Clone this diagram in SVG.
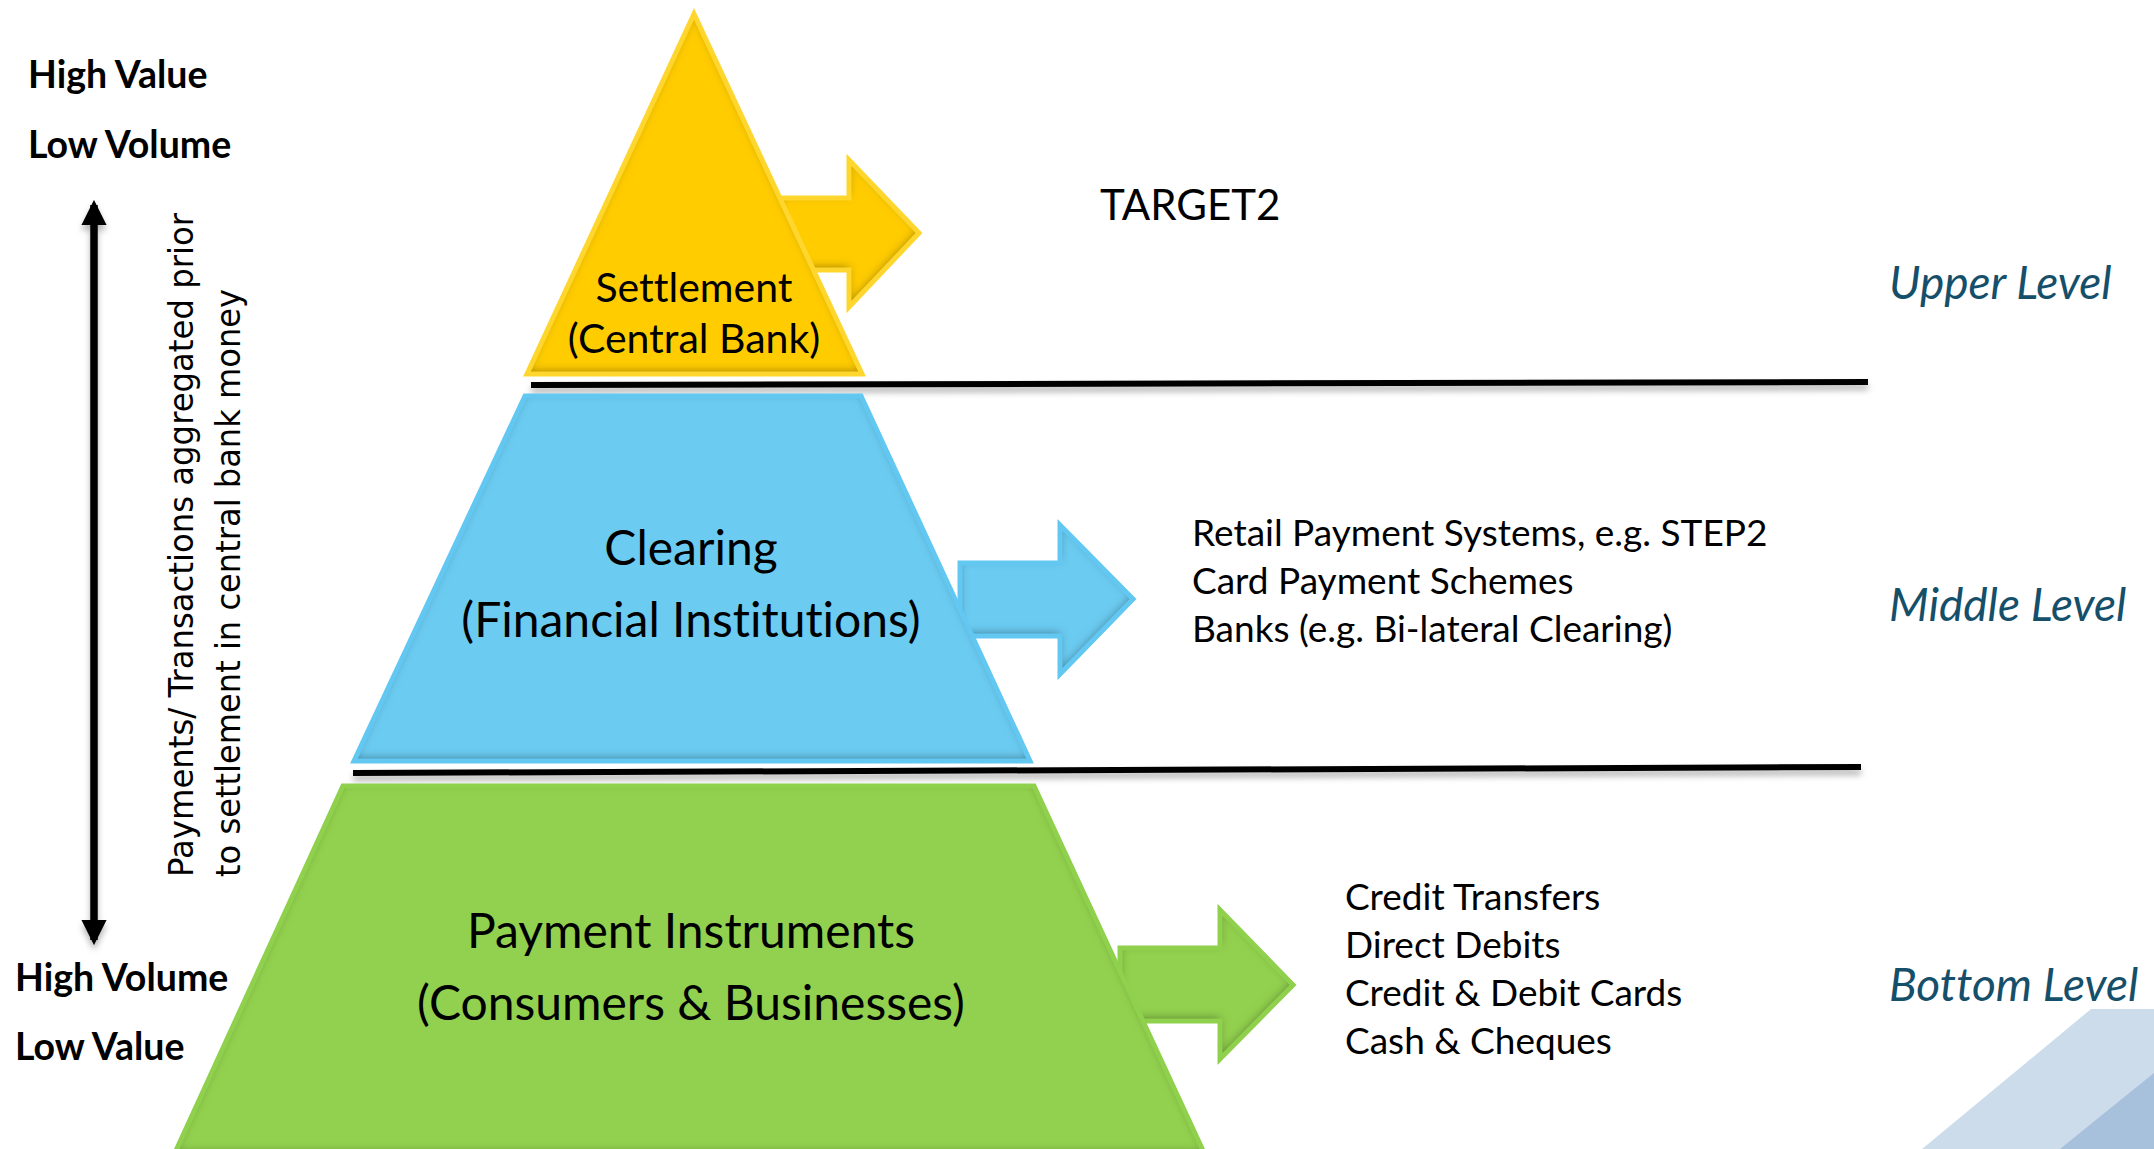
<svg xmlns="http://www.w3.org/2000/svg" width="2154" height="1149" viewBox="0 0 2154 1149">
<defs>
<style>
text{font-variant-ligatures:none;font-feature-settings:"liga" 0}
.lbl{font-family:Lato,"Liberation Sans",sans-serif;fill:#000}
.big{font-size:48px;text-anchor:middle}
.side{font-size:37px}
.bold{font-family:Lato,"Liberation Sans",sans-serif;font-weight:bold;font-size:37.5px;fill:#000}
.lvl{font-family:Lato,"Liberation Sans",sans-serif;font-style:italic;font-size:46px;fill:#154F6A}
.rot{font-family:"DejaVu Sans","Liberation Sans",sans-serif;font-size:34px;fill:#000}
.yf{fill:#FFCC00}
.ys{fill:none;stroke:#FFD62E;stroke-width:5;stroke-linejoin:miter}
.bf{fill:#6CCBF1}
.bs{fill:none;stroke:#62C8F2;stroke-width:5;stroke-linejoin:miter}
.gf{fill:#92D050}
.gs{fill:none;stroke:#8FD04D;stroke-width:5;stroke-linejoin:miter}
.sep{stroke:#000;stroke-width:6;fill:none}
</style>
<filter id="inset" x="-10%" y="-10%" width="120%" height="120%">
<feOffset in="SourceAlpha" dx="0" dy="-3" result="o"/>
<feGaussianBlur in="o" stdDeviation="5" result="b"/>
<feComposite in="SourceAlpha" in2="b" operator="out" result="inv"/>
<feFlood flood-color="#000" flood-opacity="0.7"/>
<feComposite in2="inv" operator="in" result="sh"/>
<feMerge><feMergeNode in="SourceGraphic"/><feMergeNode in="sh"/></feMerge>
</filter>
<filter id="drop" filterUnits="userSpaceOnUse" x="0" y="0" width="2154" height="1149">
<feGaussianBlur in="SourceAlpha" stdDeviation="3"/>
<feOffset dx="0" dy="5" result="b"/>
<feFlood flood-color="#000" flood-opacity="0.3"/>
<feComposite in2="b" operator="in"/>
<feMerge><feMergeNode/><feMergeNode in="SourceGraphic"/></feMerge>
</filter>
<marker id="ah" viewBox="0 0 10 10" refX="8" refY="5" markerWidth="3.4" markerHeight="3.4" orient="auto-start-reverse" markerUnits="strokeWidth">
<path d="M0,0 L10,5 L0,10 Z" fill="#000"/>
</marker>
</defs>
<rect width="2154" height="1149" fill="#fff"/>

<g id="decor">
<polygon points="2091,1009 2154,1009 2154,1149 1922,1149" fill="#CCDCEB"/>
<polygon points="2154,1073 2154,1149 2060,1149" fill="#A7C0DC"/>
</g>

<g id="connectors">
<line class="sep" x1="531" y1="385" x2="1868" y2="382" filter="url(#drop)"/>
<line class="sep" x1="353" y1="773" x2="1861" y2="767" filter="url(#drop)"/>
<line x1="94" y1="205" x2="94" y2="940" stroke="#000" stroke-width="7.5" marker-start="url(#ah)" marker-end="url(#ah)" filter="url(#drop)"/>
</g>

<g id="settlement">
<polygon class="yf" filter="url(#inset)" points="780,198 849,198 849,160 919,233 849,307 849,270 780,270"/>
<polygon class="ys" points="780,198 849,198 849,160 919,233 849,307 849,270 780,270"/>
<polygon class="yf" filter="url(#inset)" points="694,14 862,374 527,374"/>
<polygon class="ys" points="694,14 862,374 527,374"/>
<text class="lbl" x="694" y="302" font-size="41" text-anchor="middle">Settlement</text>
<text class="lbl" x="694" y="353" font-size="41" text-anchor="middle">(Central Bank)</text>
</g>

<g id="clearing">
<polygon class="bf" filter="url(#inset)" points="960,563 1060,563 1060,525 1133,599 1060,674 1060,636 960,636"/>
<polygon class="bs" points="960,563 1060,563 1060,525 1133,599 1060,674 1060,636 960,636"/>
<polygon class="bf" filter="url(#inset)" points="525,396 861,396 1030,761 354,761"/>
<polygon class="bs" points="525,396 861,396 1030,761 354,761"/>
<text class="lbl big" x="691" y="565">Clearing</text>
<text class="lbl big" x="691" y="637">(Financial Institutions)</text>
</g>

<g id="instruments">
<polygon class="gf" filter="url(#inset)" points="1120,948 1220,948 1220,910 1293,985 1220,1059 1220,1021 1120,1021"/>
<polygon class="gs" points="1120,948 1220,948 1220,910 1293,985 1220,1059 1220,1021 1120,1021"/>
<polygon class="gf" filter="url(#inset)" points="343,786 1034,786 1205,1155 174,1155"/>
<polygon class="gs" points="343,786 1034,786 1205,1155 174,1155"/>
<text class="lbl big" x="691" y="948">Payment Instruments</text>
<text class="lbl big" x="691" y="1020">(Consumers &amp; Businesses)</text>
</g>

<g id="axis-labels">
<text class="bold" x="28" y="88">High Value</text>
<text class="bold" x="28" y="158">Low Volume</text>
<text class="bold" x="15" y="991">High Volume</text>
<text class="bold" x="15" y="1060">Low Value</text>
<text class="rot" transform="translate(193,877) rotate(-90)" textLength="664" lengthAdjust="spacingAndGlyphs">Payments/ Transactions aggregated prior</text>
<text class="rot" transform="translate(240,877) rotate(-90)" textLength="588" lengthAdjust="spacingAndGlyphs">to settlement in central bank money</text>
</g>

<g id="examples">
<text class="lbl" x="1100" y="220" font-size="42">TARGET2</text>
<text class="lbl side" x="1192" y="546">Retail Payment Systems, e.g. STEP2</text>
<text class="lbl side" x="1192" y="594">Card Payment Schemes</text>
<text class="lbl side" x="1192" y="642">Banks (e.g. Bi-lateral Clearing)</text>
<text class="lbl side" x="1345" y="910">Credit Transfers</text>
<text class="lbl side" x="1345" y="958">Direct Debits</text>
<text class="lbl side" x="1345" y="1006">Credit &amp; Debit Cards</text>
<text class="lbl side" x="1345" y="1054">Cash &amp; Cheques</text>
</g>

<g id="levels">
<text class="lvl" x="1889" y="299">Upper Level</text>
<text class="lvl" x="1889" y="621">Middle Level</text>
<text class="lvl" x="1889" y="1001">Bottom Level</text>
</g>
</svg>
